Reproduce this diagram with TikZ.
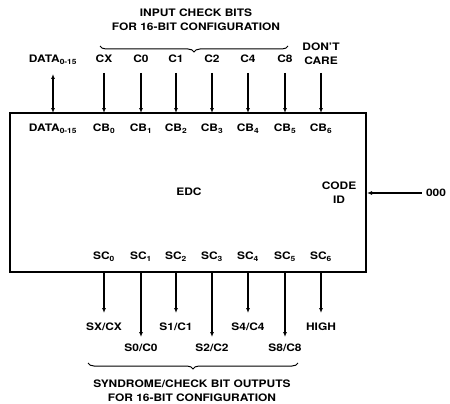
\documentclass[tikz,border=0pt]{standalone}
\usepackage{fontspec}
\setmainfont[FakeStretch=1.16]{TeX Gyre Heros}
\usetikzlibrary{arrows.meta,decorations.pathreplacing}

\begin{document}
\begin{tikzpicture}[x=1pt,y=-1pt]
	\tikzset{every node/.style={inner sep=0pt,font=\bfseries\fontsize{10.3}{14}\selectfont,align=center}}
	\tikzset{sig/.style={line width=1.1pt,-{Latex[length=5pt,width=4pt]}}}
	\tikzset{bus/.style={line width=1.1pt,{Latex[length=5pt,width=4pt]}-{Latex[length=5pt,width=4pt]}}}
	\tikzset{brc/.style={line width=1pt,decorate,decoration={brace,amplitude=6pt}}}
	\useasboundingbox (0,0) rectangle (450,404);
	% the chip
	\draw [line width=2pt] (10,113) rectangle (366,272);
	\node (edc) at (189,192) {EDC};
	\node (codeid) at (339,193) {CODE\\ID};
	\coordinate (idpin) at (367,193);
	\node (zero) at (436,193) {000};
	\draw [sig] (zero.west) ++(-4,0) -- (idpin);
	% top titles
	\node (intitle) at (196,20) {INPUT CHECK BITS\\FOR 16-BIT CONFIGURATION};
	\draw [brc] (288,46) -- (100,46);
	% top signal names
	\node (data) at (53,60) {DATA\textsubscript{0-15}};
	\node (cx) at (104,59) {CX};
	\node (c0) at (141,59) {C0};
	\node (c1) at (176,59) {C1};
	\node (c2) at (212,59) {C2};
	\node (c4) at (248,59) {C4};
	\node (c8) at (285,59) {C8};
	\node (dc) at (321,54) {DON'T\\CARE};
	% pins along the top
	\node (pdata) at (53,129) {DATA\textsubscript{0-15}};
	\node (cb0) at (104,129) {CB\textsubscript{0}};
	\node (cb1) at (141,129) {CB\textsubscript{1}};
	\node (cb2) at (176,129) {CB\textsubscript{2}};
	\node (cb3) at (212,129) {CB\textsubscript{3}};
	\node (cb4) at (248,129) {CB\textsubscript{4}};
	\node (cb5) at (285,129) {CB\textsubscript{5}};
	\node (cb6) at (321,129) {CB\textsubscript{6}};
	\draw [bus] (pdata.north |- 0,74) -- (pdata.north |- 0,113);
	\draw [sig] (cb0.north |- 0,73) -- (cb0.north |- 0,113);
	\draw [sig] (cb1.north |- 0,73) -- (cb1.north |- 0,113);
	\draw [sig] (cb2.north |- 0,73) -- (cb2.north |- 0,113);
	\draw [sig] (cb3.north |- 0,73) -- (cb3.north |- 0,113);
	\draw [sig] (cb4.north |- 0,73) -- (cb4.north |- 0,113);
	\draw [sig] (cb5.north |- 0,73) -- (cb5.north |- 0,113);
	\draw [sig] (cb6.north |- 0,73) -- (cb6.north |- 0,113);
	% pins along the bottom
	\node (sc0) at (104,257) {SC\textsubscript{0}};
	\node (sc1) at (141,257) {SC\textsubscript{1}};
	\node (sc2) at (176,257) {SC\textsubscript{2}};
	\node (sc3) at (212,257) {SC\textsubscript{3}};
	\node (sc4) at (248,257) {SC\textsubscript{4}};
	\node (sc5) at (285,257) {SC\textsubscript{5}};
	\node (sc6) at (321,257) {SC\textsubscript{6}};
	\node (sxcx) at (104,327) {SX/CX};
	\node (s0c0) at (141,348) {S0/C0};
	\node (s1c1) at (176,327) {S1/C1};
	\node (s2c2) at (212,348) {S2/C2};
	\node (s4c4) at (248,327) {S4/C4};
	\node (s8c8) at (285,348) {S8/C8};
	\node (high) at (321,327) {HIGH};
	\draw [sig] (sc0.south |- 0,272) -- (sc0.south |- 0,313);
	\draw [sig] (sc1.south |- 0,272) -- (sc1.south |- 0,337);
	\draw [sig] (sc2.south |- 0,272) -- (sc2.south |- 0,313);
	\draw [sig] (sc3.south |- 0,272) -- (sc3.south |- 0,337);
	\draw [sig] (sc4.south |- 0,272) -- (sc4.south |- 0,313);
	\draw [sig] (sc5.south |- 0,272) -- (sc5.south |- 0,337);
	\draw [sig] (sc6.south |- 0,272) -- (sc6.south |- 0,313);
	% bottom titles
	\draw [brc] (298,363) -- (88,363);
	\node (outtitle) at (192,391) {SYNDROME/CHECK BIT OUTPUTS\\FOR 16-BIT CONFIGURATION};
\end{tikzpicture}
\end{document}
